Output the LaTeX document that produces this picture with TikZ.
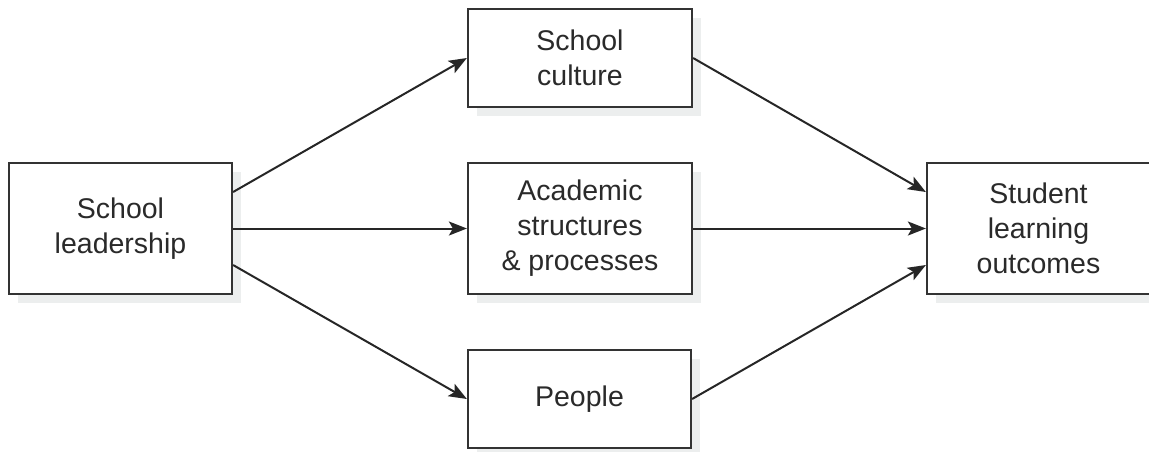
\documentclass[tikz,border=0pt]{standalone}
\usepackage{fontspec}
\setmainfont{Liberation Sans}
\usetikzlibrary{arrows.meta,shadows}
\definecolor{boxline}{HTML}{333333}
\definecolor{txt}{HTML}{2A2A2A}
\definecolor{shade}{HTML}{ECEEEE}
\tikzset{
  box/.style={draw=boxline, line width=2.2pt, fill=white, align=center, text=txt,
    inner sep=0pt, font=\fontsize{28.5}{35}\selectfont,
    drop shadow={shadow xshift=9pt, shadow yshift=-9pt, fill=shade, opacity=1}},
  conn/.style={draw=black!85, line width=2pt,
    -{Stealth[length=18pt,width=14pt,inset=4pt]}}
}
\begin{document}
\begin{tikzpicture}[x=1pt,y=-1pt]
\useasboundingbox (0,0) rectangle (1149,451);
\clip (0,0) rectangle (1149,451);
\node[box, minimum width=223pt, minimum height=131pt] (lead) at (120.5,228.5) {School\\leadership};
\node[box, minimum width=224pt, minimum height=98pt] (cult) at (580,58) {School\\culture};
\node[box, minimum width=224pt, minimum height=131pt] (acad) at (580,228.5) {Academic\\structures\\\& processes};
\node[box, minimum width=223pt, minimum height=98pt] (peop) at (579.5,399) {People};
\node[box, minimum width=223pt, minimum height=131pt] (stud) at (1038.5,228.5) {Student\\learning\\outcomes};
\draw[conn] ([yshift=36.5pt]lead.east) -- (cult.west);
\draw[conn] (lead.east) -- (acad.west);
\draw[conn] ([yshift=-36.5pt]lead.east) -- (peop.west);
\draw[conn] (cult.east) -- ([yshift=36.5pt]stud.west);
\draw[conn] (acad.east) -- (stud.west);
\draw[conn] (peop.east) -- ([yshift=-36.5pt]stud.west);
\end{tikzpicture}
\end{document}
